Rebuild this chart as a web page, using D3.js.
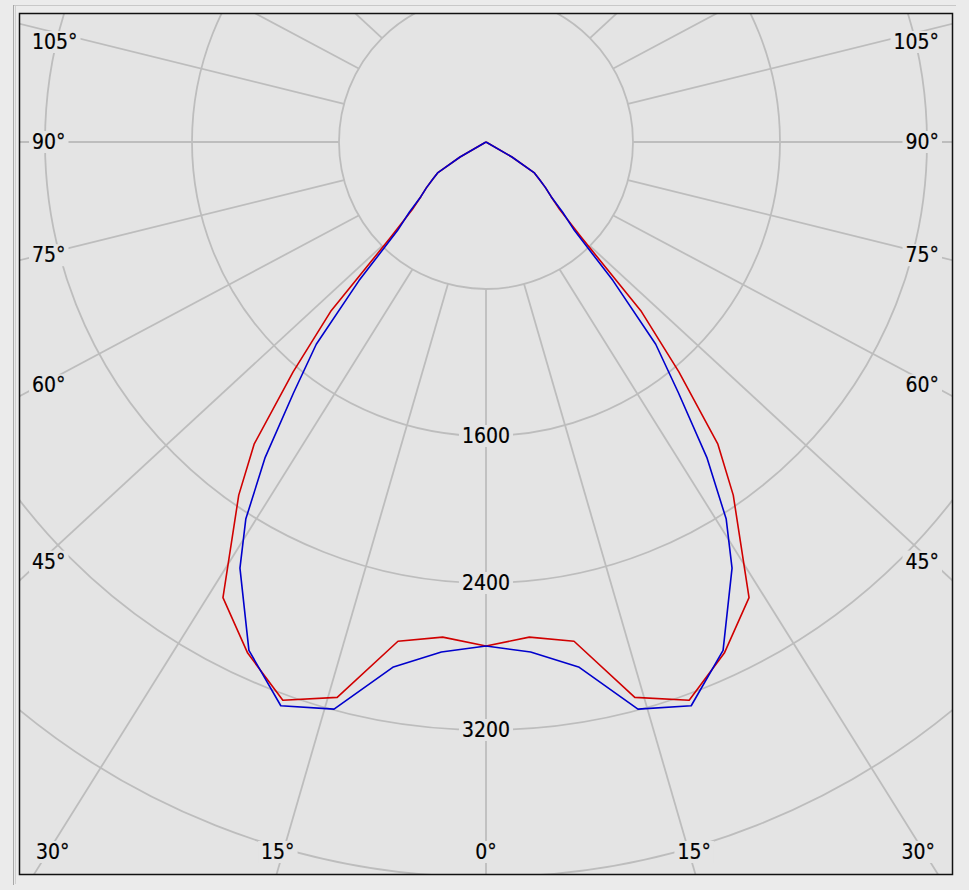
<!DOCTYPE html>
<html><head><meta charset="utf-8">
<script src="https://cdn.jsdelivr.net/npm/d3@7"></script>
<style>html,body{margin:0;padding:0;background:#ebebeb;} svg{display:block}</style>
</head><body>
<svg id="chart" width="969" height="890"></svg>
<script>
// ---- data ----
const angleGrid = [0, 15, 30, 45, 60, 75, 90, 105, 120, 135, 150, 165, 180];
const angleLabels = [0, 15, 30, 45, 60, 75, 90, 105];
const radialTicks = [800, 1600, 2400, 3200, 4000];
const radialLabelTicks = [1600, 2400, 3200];
const redAngles = [0, 5, 10, 15, 20, 25, 30, 35, 37.5, 40, 42.5, 45, 47.5, 50, 52.5, 55, 57.5, 60, 90];
const redValues = [2743, 2705, 2759, 3129, 3233, 3069, 2863, 2346, 2073, 1633, 1252, 735, 544, 463, 408, 354, 310, 163, 0];
const blueAngles = [0, 5, 10, 15, 20, 25, 30, 32.5, 35, 37.5, 40, 42.5, 45, 47.5, 50, 52.5, 55, 57.5, 60, 90];
const blueValues = [2743, 2786, 2901, 3195, 3265, 3053, 2678, 2433, 2095, 1720, 1437, 1023, 680, 566, 463, 408, 354, 310, 163, 0];

// ---- layout ----
const plot = {x0: 19, y0: 13, x1: 953, y1: 875};
const cx = 486, cy = 142;
const bg = "#e4e4e4";
const gridColor = "#bdbdbd";
const k = (plot.x1 - plot.x0) / (plot.y1 - plot.y0);
const r = d3.scaleLinear().domain([0, 4000]).range([0, 735]);
const rad = d => d * Math.PI / 180;

const svg = d3.select("#chart");

// pick a font: condensed DejaVu if present, else Liberation Sans
function measure(fam) {
  const t = svg.append("text").attr("font-family", fam).attr("font-size", 20).text("1600");
  const w = t.node().getBBox().width; t.remove(); return w;
}
const wCond = measure("'DejaVu Sans Condensed'");
const wReg = measure("'DejaVu Sans'");
const useCond = wCond < wReg - 2;
const font = useCond ? "'DejaVu Sans Condensed', sans-serif" : "'Liberation Sans', Arial, sans-serif";
const fontSize = useCond ? 21 : 21.5;

// outer frame lines
svg.append("line").attr("x1", 13).attr("x2", 956).attr("y1", 5.5).attr("y2", 5.5).attr("stroke", "#c8c8c8");
svg.append("line").attr("x1", 13.5).attr("x2", 13.5).attr("y1", 5).attr("y2", 885).attr("stroke", "#a8a8a8");
svg.append("line").attr("x1", 15.5).attr("x2", 15.5).attr("y1", 6).attr("y2", 884).attr("stroke", "#d0d0d0");

svg.append("rect").attr("x", plot.x0).attr("y", plot.y0)
  .attr("width", plot.x1 - plot.x0).attr("height", plot.y1 - plot.y0)
  .attr("fill", bg);

const defs = svg.append("defs");
defs.append("clipPath").attr("id", "clip").append("rect")
  .attr("x", plot.x0).attr("y", plot.y0)
  .attr("width", plot.x1 - plot.x0).attr("height", plot.y1 - plot.y0);

const g = svg.append("g").attr("clip-path", "url(#clip)");

// circles
g.selectAll("circle.grid").data(radialTicks).join("circle")
  .attr("class", "grid").attr("cx", cx).attr("cy", cy).attr("r", d => r(d))
  .attr("fill", "none").attr("stroke", gridColor).attr("stroke-width", 1.8);

// radial lines (start at inner circle)
function ray(theta, side) {
  const a = rad(theta);
  const r0 = r(radialTicks[0]);
  const p0 = {x: cx + side * r0 * Math.sin(a), y: cy + r0 * Math.cos(a)};
  let dx = side * k * Math.sin(a), dy = Math.cos(a);
  const n = Math.hypot(dx, dy);
  return {p0, dx: dx / n, dy: dy / n};
}
const rays = [];
angleGrid.forEach(t => {
  [-1, 1].forEach(s => { if (!(s === 1 && (t === 0 || t === 180))) rays.push({t, s}); });
});
g.selectAll("line.ray").data(rays).join("line")
  .attr("class", "ray")
  .attr("x1", d => ray(d.t, d.s).p0.x).attr("y1", d => ray(d.t, d.s).p0.y)
  .attr("x2", d => { const q = ray(d.t, d.s); return q.p0.x + 2000 * q.dx; })
  .attr("y2", d => { const q = ray(d.t, d.s); return q.p0.y + 2000 * q.dy; })
  .attr("stroke", gridColor).attr("stroke-width", 1.8);

// curves
function curvePoints(angles, values) {
  const pts = [];
  for (let i = angles.length - 1; i >= 0; i--) pts.push({a: angles[i], v: values[i], s: -1});
  for (let i = 1; i < angles.length; i++) pts.push({a: angles[i], v: values[i], s: 1});
  return pts;
}
const line = d3.line()
  .x(d => cx + d.s * r(d.v) * Math.sin(rad(d.a)))
  .y(d => cy + r(d.v) * Math.cos(rad(d.a)));

g.append("path").datum(curvePoints(redAngles, redValues))
  .attr("d", line).attr("fill", "none").attr("stroke", "#d00000").attr("stroke-width", 1.6)
  .attr("stroke-linejoin", "round");
g.append("path").datum(curvePoints(blueAngles, blueValues))
  .attr("d", line).attr("fill", "none").attr("stroke", "#0000cc").attr("stroke-width", 1.6)
  .attr("stroke-linejoin", "round");

// labels with background boxes
const labelLayer = svg.append("g");
function addLabel(text, x, y, anchor) {
  const gg = labelLayer.append("g");
  const rect = gg.append("rect").attr("fill", bg);
  const t = gg.append("text").attr("x", x).attr("y", y)
    .attr("text-anchor", anchor).attr("dominant-baseline", "central")
    .attr("font-family", font).attr("font-size", fontSize).attr("fill", "#000")
    .attr("stroke", "#000").attr("stroke-width", 0.2).text(text);
  const b = t.node().getBBox();
  rect.attr("x", b.x - 3).attr("y", b.y + 1).attr("width", b.width + 6).attr("height", b.height - 2);
}

radialLabelTicks.forEach(v => addLabel(String(v), cx, cy + r(v), "middle"));

const inset = {left: 40, right: 932, top: 42, bottom: 870, labelBottom: 852};
angleLabels.forEach(t => {
  [-1, 1].forEach(s => {
    if (s === 1 && t === 0) return;
    const q = ray(t, s);
    const tx = q.dx < 0 ? (inset.left - q.p0.x) / q.dx : q.dx > 0 ? (inset.right - q.p0.x) / q.dx : Infinity;
    const ty = q.dy > 0 ? (inset.bottom - q.p0.y) / q.dy : q.dy < 0 ? (inset.top - q.p0.y) / q.dy : Infinity;
    const txt = t + "°";
    if (q.dy > 0 && ty <= tx) {
      addLabel(txt, q.p0.x + ty * q.dx, inset.labelBottom, "middle");
    } else {
      const tt = Math.min(tx, ty);
      const yRaw = q.p0.y + tt * q.dy;
      const corner = yRaw > inset.labelBottom;
      const y = Math.max(inset.top, Math.min(inset.labelBottom, yRaw));
      const xl = corner ? 36 : 32, xr = corner ? 935 : 939;
      addLabel(txt, s < 0 ? xl : xr, y, s < 0 ? "start" : "end");
    }
  });
});

// plot border
svg.append("rect").attr("x", plot.x0 + 0.5).attr("y", plot.y0 + 0.5)
  .attr("width", plot.x1 - plot.x0 - 1).attr("height", plot.y1 - plot.y0 - 1)
  .attr("fill", "none").attr("stroke", "#111").attr("stroke-width", 1.5);
</script>
</body></html>
